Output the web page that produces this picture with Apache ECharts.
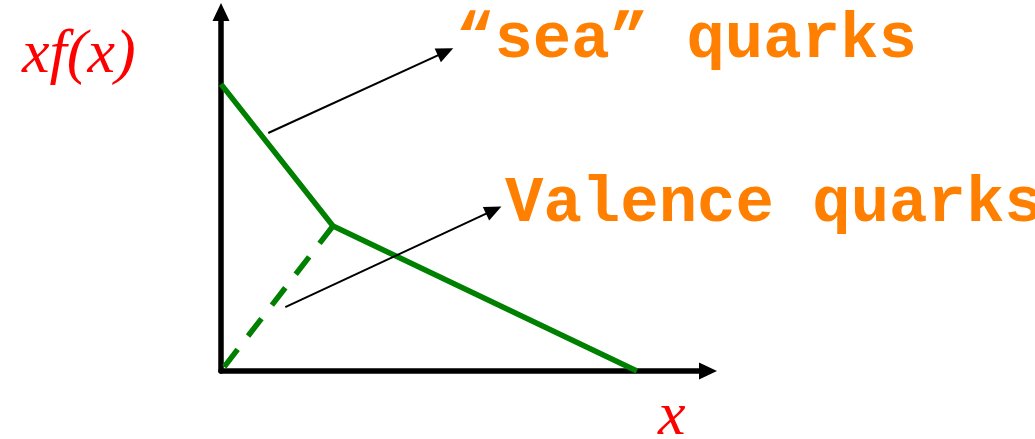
<!DOCTYPE html>
<html>
<head>
<meta charset="utf-8">
<script src="https://cdn.jsdelivr.net/npm/echarts@6/dist/echarts.min.js"></script>
<style>
html,body{margin:0;padding:0;background:#fff;}
#chart{width:1035px;height:439px;}
</style>
</head>
<body>
<div id="chart"></div>
<script>
// Data (axis units: x and y from 0 to 1)
const seaQuarkCurve = [[0, 0.799], [0.230, 0.404], [0.854, 0]];
const valenceCurve = [[0.230, 0.404], [0, 0]];
const seaArrow = [[0.097, 0.663], [0.461, 0.889]];
const valenceArrow = [[0.132, 0.178], [0.560, 0.448]];
const labels = ['\u201csea\u201d quarks', 'Valence quarks'];
const yAxisTitle = 'xf(x)';
const xAxisTitle = 'x';

const chart = echarts.init(document.getElementById('chart'), null, {renderer: 'canvas'});

const axisCommon = {
  type: 'value', min: 0, max: 1,
  axisLine: {show: true, symbol: ['none', 'triangle'], symbolSize: [17, 18],
    lineStyle: {color: '#000', width: 5.5}},
  axisTick: {show: false}, axisLabel: {show: false}, splitLine: {show: false}
};

const labelStyle = {fontFamily: '"Liberation Mono", "Courier New", monospace', fontWeight: 'bold', fontSize: 64, fill: '#ff8000', verticalAlign: 'middle'};
const mathStyle = {fontFamily: '"Liberation Serif", serif', fontStyle: 'italic', fontSize: 62, fill: '#ff0000', verticalAlign: 'middle'};

chart.setOption({
  animation: false,
  backgroundColor: '#fff',
  grid: {left: 221, right: 327, top: 12, bottom: 68},
  xAxis: axisCommon,
  yAxis: axisCommon,
  graphic: [
    {type: 'text', x: 456, y: 41, style: Object.assign({text: labels[0]}, labelStyle)},
    {type: 'text', x: 505, y: 205, style: Object.assign({text: labels[1]}, labelStyle)},
    {type: 'text', x: 22, y: 56, style: Object.assign({text: yAxisTitle}, mathStyle)},
    {type: 'text', x: 658, y: 418, style: Object.assign({text: xAxisTitle}, mathStyle)}
  ],
  series: [
    {
      type: 'line', data: seaQuarkCurve, showSymbol: false, silent: true,
      lineStyle: {color: '#008000', width: 5.5}
    },
    {
      type: 'line', data: valenceCurve, showSymbol: false, silent: true,
      lineStyle: {color: '#008000', width: 5.5, type: [22, 17]},
      markLine: {
        silent: true, symbol: ['none', 'triangle'], symbolSize: [15, 17],
        label: {show: false},
        lineStyle: {color: '#000', width: 2, type: 'solid'},
        data: [
          [{coord: seaArrow[0]}, {coord: seaArrow[1]}],
          [{coord: valenceArrow[0]}, {coord: valenceArrow[1]}]
        ]
      }
    }
  ]
});
</script>
</body>
</html>
